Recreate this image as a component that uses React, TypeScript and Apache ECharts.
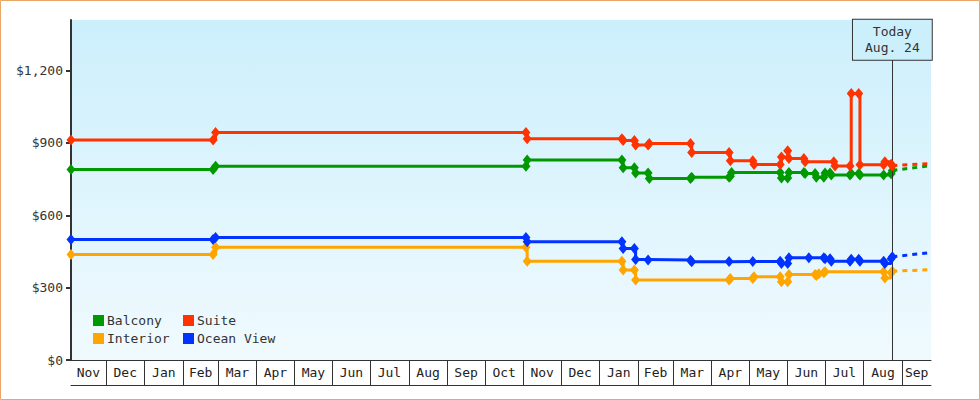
import { useEffect, useRef } from 'react';
import * as echarts from 'echarts';

type Pt = [string, number];

// prices per cabin type, step changes recorded as [date, price]
const balcony: Pt[] = [
  ['2021-11-03', 790],
  ['2022-02-25', 790], ['2022-02-27', 804],
  ['2022-11-03', 804], ['2022-11-04', 829],
  ['2023-01-19', 829], ['2023-01-20', 797],
  ['2023-01-29', 797], ['2023-01-30', 776],
  ['2023-02-09', 776], ['2023-02-10', 753],
  ['2023-03-15', 753], ['2023-03-16', 758],
  ['2023-04-15', 758], ['2023-04-16', 762], ['2023-04-17', 778],
  ['2023-05-26', 778], ['2023-05-27', 755],
  ['2023-06-01', 755], ['2023-06-02', 778],
  ['2023-06-14', 778], ['2023-06-15', 773],
  ['2023-06-23', 773], ['2023-06-24', 758],
  ['2023-06-30', 758], ['2023-07-01', 776],
  ['2023-07-05', 776], ['2023-07-06', 767],
  ['2023-07-21', 767], ['2023-07-22', 773],
  ['2023-07-28', 773], ['2023-07-29', 767],
  ['2023-08-17', 767], ['2023-08-23', 772], ['2023-08-24', 786],
];

const suite: Pt[] = [
  ['2021-11-03', 912],
  ['2022-02-25', 912], ['2022-02-27', 943],
  ['2022-11-03', 943], ['2022-11-04', 918],
  ['2023-01-19', 918], ['2023-01-20', 910],
  ['2023-01-29', 910], ['2023-01-30', 892],
  ['2023-02-09', 892], ['2023-02-10', 898],
  ['2023-03-15', 898], ['2023-03-16', 860],
  ['2023-04-15', 860], ['2023-04-16', 826],
  ['2023-05-04', 826], ['2023-05-05', 811],
  ['2023-05-26', 811], ['2023-05-27', 842],
  ['2023-06-01', 868], ['2023-06-02', 836],
  ['2023-06-14', 836], ['2023-06-15', 822],
  ['2023-07-08', 822], ['2023-07-09', 805],
  ['2023-07-21', 805], ['2023-07-22', 1105],
  ['2023-07-28', 1105], ['2023-07-29', 810],
  ['2023-08-17', 810], ['2023-08-18', 822],
  ['2023-08-23', 812], ['2023-08-24', 806],
];

const interior: Pt[] = [
  ['2021-11-03', 438],
  ['2022-02-25', 438], ['2022-02-27', 468],
  ['2022-11-03', 468], ['2022-11-04', 410],
  ['2023-01-19', 410], ['2023-01-20', 373],
  ['2023-01-29', 373], ['2023-01-30', 332],
  ['2023-04-15', 332], ['2023-04-16', 338],
  ['2023-05-04', 338], ['2023-05-05', 345],
  ['2023-05-26', 345], ['2023-05-27', 325],
  ['2023-06-01', 325], ['2023-06-02', 355],
  ['2023-06-23', 355], ['2023-06-24', 350],
  ['2023-06-26', 358], ['2023-06-30', 362],
  ['2023-07-01', 366],
  ['2023-08-17', 366], ['2023-08-18', 340],
  ['2023-08-23', 362], ['2023-08-24', 368],
];

const oceanView: Pt[] = [
  ['2021-11-03', 500],
  ['2022-02-25', 500], ['2022-02-27', 508],
  ['2022-11-03', 508], ['2022-11-04', 490],
  ['2023-01-19', 490], ['2023-01-20', 462],
  ['2023-01-29', 462], ['2023-01-30', 417],
  ['2023-02-09', 415],
  ['2023-03-15', 414], ['2023-03-16', 407],
  ['2023-04-15', 408],
  ['2023-05-04', 409],
  ['2023-05-26', 410], ['2023-05-27', 400],
  ['2023-06-01', 400], ['2023-06-02', 424],
  ['2023-06-18', 424],
  ['2023-06-30', 424], ['2023-07-01', 420],
  ['2023-07-05', 420], ['2023-07-06', 410],
  ['2023-07-21', 410], ['2023-07-22', 418],
  ['2023-07-28', 418], ['2023-07-29', 410],
  ['2023-08-17', 410], ['2023-08-18', 400],
  ['2023-08-23', 420], ['2023-08-24', 428],
];

// projected prices after today (dotted)
const balconyProj: Pt[] = [['2023-08-24', 786], ['2023-09-24', 806]];
const suiteProj: Pt[] = [['2023-08-24', 806], ['2023-09-24', 815]];
const interiorProj: Pt[] = [['2023-08-24', 368], ['2023-09-24', 375]];
const oceanViewProj: Pt[] = [['2023-08-24', 428], ['2023-09-24', 446]];

const axisStart = '2021-11-03';
const axisEnd = '2023-09-24';
const today = '2023-08-24';
const todayText = ['Today', 'Aug. 24'];
const priceTicks = [0, 300, 600, 900, 1200];
const monthNames = ['Jan', 'Feb', 'Mar', 'Apr', 'May', 'Jun', 'Jul', 'Aug', 'Sep', 'Oct', 'Nov', 'Dec'];

const FONT = "'DejaVu Sans Mono', monospace";
const INK = '#333';

const toTime = (s: string) => {
  const [y, m, d] = s.split('-').map(Number);
  return new Date(y, m - 1, d).getTime();
};
const toSeries = (pts: Pt[]) => pts.map(([d, v]) => [toTime(d), v]);

// month boundaries & mid points for the boxed month row
const t0 = toTime(axisStart);
const t1 = toTime(axisEnd);
const monthStarts: number[] = [];
const monthMids: number[] = [];
{
  const d = new Date(t0);
  let cur = new Date(d.getFullYear(), d.getMonth(), 1);
  while (cur.getTime() < t1) {
    const next = new Date(cur.getFullYear(), cur.getMonth() + 1, 1);
    const a = Math.max(cur.getTime(), t0);
    const b = Math.min(next.getTime(), t1);
    monthMids.push((a + b) / 2);
    if (next.getTime() < t1) monthStarts.push(next.getTime());
    cur = next;
  }
}

const cabins = [
  { name: 'Balcony', color: '#009900', data: balcony, proj: balconyProj },
  { name: 'Interior', color: '#FFA500', data: interior, proj: interiorProj },
  { name: 'Ocean View', color: '#0033FF', data: oceanView, proj: oceanViewProj },
  { name: 'Suite', color: '#FF3300', data: suite, proj: suiteProj },
];

export default function App() {
  const chartRef = useRef<HTMLDivElement>(null);

  useEffect(() => {
    document.body.style.margin = '0';
    if (!chartRef.current) return;
    const chart = echarts.init(chartRef.current, null, { renderer: 'svg' });

    const legendBase = {
      orient: 'vertical' as const,
      top: 314,
      padding: 0,
      itemWidth: 11,
      itemHeight: 11,
      itemGap: 5,
      icon: 'rect',
      textStyle: { fontFamily: FONT, fontSize: 13, color: INK, padding: [0, 0, 0, -2] },
    };

    chart.setOption({
      animation: false,
      textStyle: { fontFamily: FONT },
      graphic: [
        {
          type: 'rect',
          shape: { x: 0.5, y: 0.5, width: 979, height: 399 },
          style: { fill: 'none', stroke: '#E9A865', lineWidth: 1 },
          silent: true,
        },
      ],
      legend: [
        { ...legendBase, left: 93, data: ['Balcony', 'Interior'] },
        { ...legendBase, left: 183, data: ['Suite', 'Ocean View'] },
      ],
      grid: {
        left: 71,
        right: 49,
        top: 20,
        bottom: 40,
        show: true,
        borderWidth: 0,
        backgroundColor: new echarts.graphic.LinearGradient(0, 0, 0, 1, [
          { offset: 0, color: '#CCEFFC' },
          { offset: 1, color: '#F0FAFE' },
        ]),
      },
      xAxis: [
        {
          type: 'value',
          min: t0,
          max: t1,
          axisLine: { lineStyle: { color: INK, width: 1 } },
          axisTick: { customValues: monthStarts, length: 25, lineStyle: { color: INK, width: 1 } },
          axisLabel: {
            customValues: monthMids,
            margin: 6,
            fontFamily: FONT,
            fontSize: 13,
            color: '#222',
            formatter: (v: number) => monthNames[new Date(v).getMonth()],
          },
          splitLine: { show: false },
        },
        {
          type: 'value',
          min: t0,
          max: t1,
          offset: 25,
          position: 'bottom',
          axisLine: { lineStyle: { color: INK, width: 1 } },
          axisTick: { show: false },
          axisLabel: { show: false },
          splitLine: { show: false },
        },
      ],
      yAxis: {
        type: 'value',
        min: 0,
        max: 1410,
        axisLine: { show: true, lineStyle: { color: INK, width: 2 } },
        axisTick: { show: true, customValues: priceTicks, length: 5, lineStyle: { color: INK, width: 2 } },
        axisLabel: {
          customValues: priceTicks,
          margin: 8,
          fontFamily: FONT,
          fontSize: 13,
          color: INK,
          formatter: (v: number) => '$' + v.toLocaleString('en-US'),
        },
        splitLine: { show: false },
      },
      series: [
        ...cabins.map((c, i) => ({
          name: c.name,
          type: 'line',
          step: 'end',
          data: toSeries(c.data),
          symbol: 'diamond',
          symbolSize: [9, 11],
          color: c.color,
          lineStyle: { width: 3, color: c.color },
          itemStyle: { color: c.color },
          emphasis: { disabled: true },
          z: 3 + i,
          ...(i === 0
            ? {
                markLine: {
                  silent: true,
                  symbol: 'none',
                  lineStyle: { color: INK, width: 1, type: 'solid' },
                  label: {
                    show: true,
                    position: 'end',
                    distance: 0,
                    formatter: todayText.join('\n'),
                    fontFamily: FONT,
                    fontSize: 13,
                    lineHeight: 16,
                    color: INK,
                    backgroundColor: '#CCEFFC',
                    borderColor: INK,
                    borderWidth: 1,
                    padding: [4, 12, 4, 12],
                  },
                  data: [[{ coord: [toTime(today), 0] }, { coord: [toTime(today), 1245] }]],
                },
              }
            : {}),
        })),
        ...cabins.map((c, i) => ({
          name: c.name,
          type: 'line',
          data: toSeries(c.proj),
          symbol: 'none',
          color: c.color,
          lineStyle: { width: 3, color: c.color, type: [5, 5] },
          emphasis: { disabled: true },
          z: 3 + i,
        })),
      ],
    });

    return () => {
      chart.dispose();
    };
  }, []);

  return <div ref={chartRef} style={{ width: 980, height: 400 }} />;
}
